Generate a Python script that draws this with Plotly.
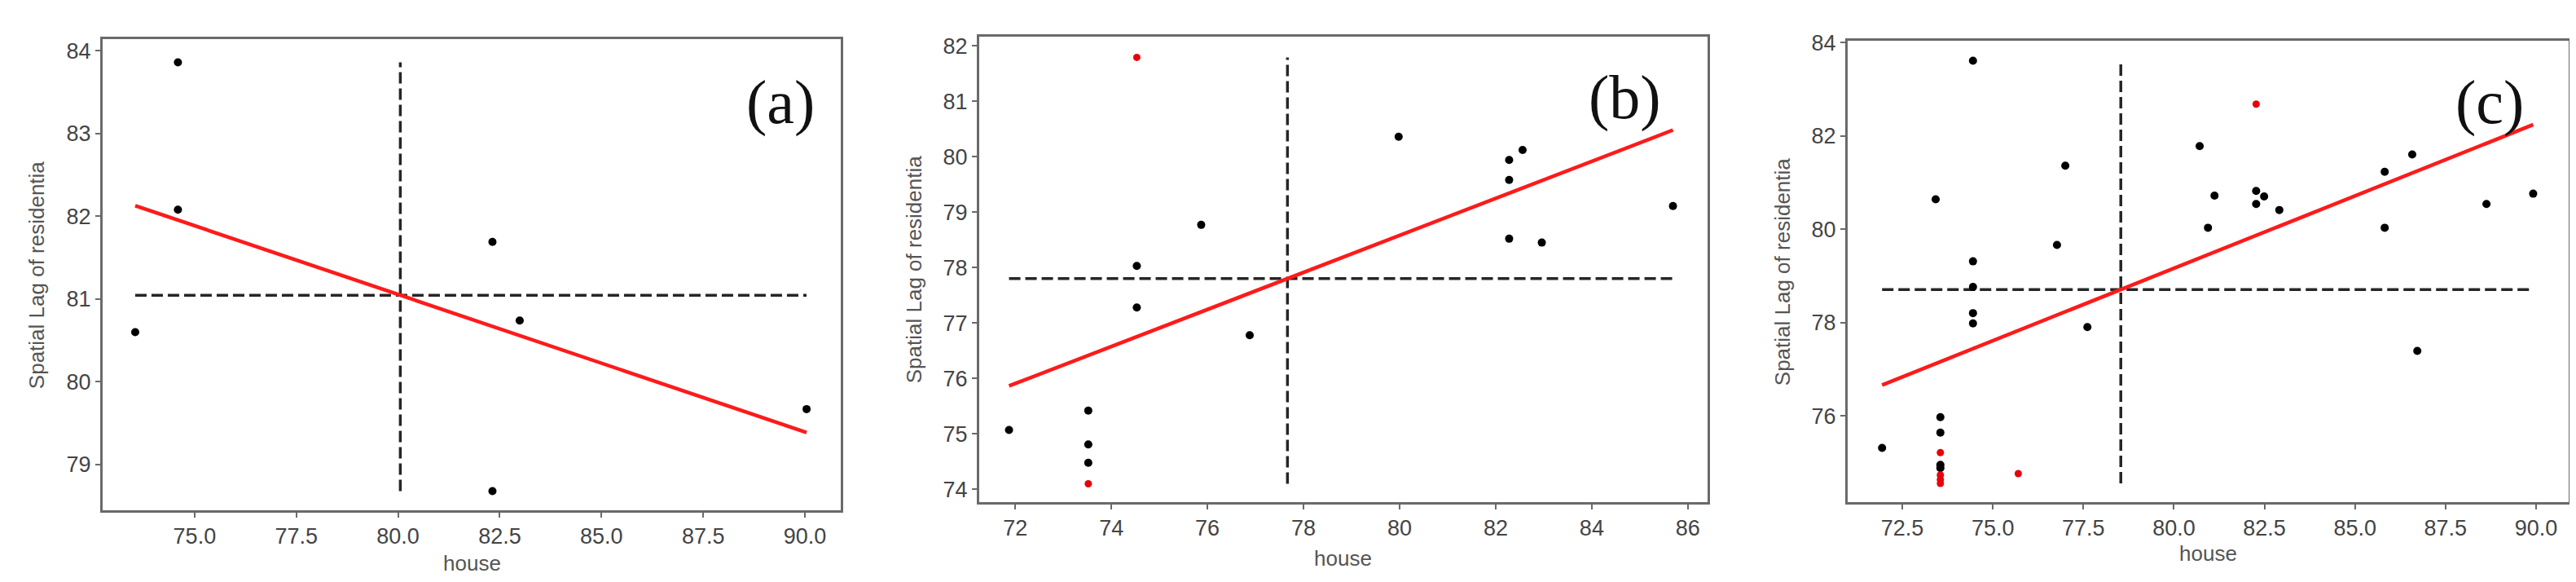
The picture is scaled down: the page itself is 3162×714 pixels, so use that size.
import numpy as np
import plotly.graph_objects as go

# ---- data (house value vs spatial lag) ----
# flag: 1 = point drawn in red
house_a = [73.54, 74.59, 74.59, 82.32, 82.99, 82.32, 90.04]
lag_a   = [80.60, 83.86, 82.08, 81.69, 80.74, 78.68, 79.67]
flag_a  = [0, 0, 0, 0, 0, 0, 0]

house_b = [71.87, 73.52, 73.52, 73.52, 73.52, 74.53, 74.53, 74.53, 75.87,
           76.88, 79.98, 82.28, 82.28, 82.28, 82.56, 82.96, 85.69]
lag_b   = [75.07, 75.42, 74.81, 74.48, 74.10, 81.79, 78.03, 77.28, 78.77,
           76.78, 80.36, 79.94, 79.58, 78.52, 80.12, 78.45, 79.11]
flag_b  = [0, 0, 0, 0, 1, 1, 0, 0, 0, 0, 0, 0, 0, 0, 0, 0, 0]

house_c = [71.94, 73.42, 73.55, 73.55, 73.55, 73.55, 73.55, 73.55, 73.55, 73.55,
           74.45, 74.45, 74.45, 74.45, 74.45, 75.70, 76.77, 77.00, 77.61, 80.71,
           80.94, 81.12, 82.27, 82.27, 82.27, 82.49, 82.91, 85.82, 85.82, 86.58,
           86.72, 88.63, 89.92]
lag_c   = [75.31, 80.64, 75.97, 75.64, 75.21, 74.95, 74.88, 74.73, 74.63, 74.55,
           83.61, 79.31, 78.76, 78.20, 77.98, 74.76, 79.66, 81.36, 77.90, 81.78,
           80.03, 80.72, 82.68, 80.82, 80.54, 80.70, 80.41, 81.23, 80.03, 81.60,
           77.39, 80.54, 80.76]
flag_c  = [0, 0, 0, 0, 1, 0, 0, 1, 1, 1,
           0, 0, 0, 0, 0, 1, 0, 0, 0, 0,
           0, 0, 1, 0, 0, 0, 0, 0, 0, 0,
           0, 0, 0]

panel_labels = ["(a)", "(b)", "(c)"]
x_ticks = [dict(dtick=2.5, tickformat=".1f"), dict(dtick=2, tickformat="d"), dict(dtick=2.5, tickformat=".1f")]
y_dticks = [1, 1, 2]

W, H = 3162, 714
# plot boxes in pixels: left, right, top, bottom
boxes = [(118, 1024, 28, 616), (1194, 2088, 24, 606), (2260, 3145, 30, 606)]
ranges_x = [(72.74, 90.88), (71.25, 86.41), (70.99, 90.90)]
ranges_y = [(78.45, 84.135), (73.77, 82.17), (74.15, 84.03)]
ylab_x = [37, 1114, 2180]
xlab_y = [682, 676, 670]
lab_pos = [(950, 106), (1986, 100), (3048, 106)]

fig = go.Figure()
panels = [(house_a, lag_a, flag_a), (house_b, lag_b, flag_b), (house_c, lag_c, flag_c)]

for i, (hx, ly, fl) in enumerate(panels):
    n = "" if i == 0 else str(i + 1)
    xa, ya = "x" + n, "y" + n
    hx = np.array(hx); ly = np.array(ly); fl = np.array(fl)
    mx, my = hx.mean(), ly.mean()

    # mean lines
    fig.add_trace(go.Scatter(x=[hx.min(), hx.max()], y=[my, my], mode="lines", xaxis=xa, yaxis=ya,
                             line=dict(color="#262626", width=3.5, dash="14px,6px"), showlegend=False))
    fig.add_trace(go.Scatter(x=[mx, mx], y=[ly.min(), ly.max()], mode="lines", xaxis=xa, yaxis=ya,
                             line=dict(color="#262626", width=3.5, dash="14px,6px"), showlegend=False))
    # points
    fig.add_trace(go.Scatter(x=hx[fl == 0], y=ly[fl == 0], mode="markers", xaxis=xa, yaxis=ya,
                             marker=dict(color="black", size=10), showlegend=False))
    fig.add_trace(go.Scatter(x=hx[fl == 1], y=ly[fl == 1], mode="markers", xaxis=xa, yaxis=ya,
                             marker=dict(color="#e8000b", size=9), showlegend=False))
    # regression line
    b, a = np.polyfit(hx, ly, 1)
    xs = np.array([hx.min(), hx.max()])
    fig.add_trace(go.Scatter(x=xs, y=a + b * xs, mode="lines", xaxis=xa, yaxis=ya,
                             line=dict(color="#ff1a1a", width=4.5), showlegend=False))

    l, r, t, bt = boxes[i]
    axis_common = dict(showline=True, mirror=True, linecolor="#6a6a6a", linewidth=3,
                       ticks="outside", ticklen=6, tickwidth=2, tickcolor="#6a6a6a",
                       showgrid=False, zeroline=False,
                       tickfont=dict(family="Liberation Sans", size=27, color="#444444"))
    fig.layout["xaxis" + n] = dict(axis_common, domain=[l / W, r / W], range=list(ranges_x[i]),
                                   anchor=ya, tick0=0, **x_ticks[i])
    fig.layout["yaxis" + n] = dict(axis_common, domain=[1 - bt / H, 1 - t / H], range=list(ranges_y[i]),
                                   anchor=xa, tick0=0, dtick=y_dticks[i])

    # axis titles and panel letter
    fig.add_annotation(x=ylab_x[i] / W, y=1 - ((t + bt) / 2) / H, xref="paper", yref="paper",
                       xanchor="center", yanchor="middle",
                       text="Spatial Lag of residentia", textangle=-90, showarrow=False,
                       font=dict(family="Liberation Sans", size=26, color="#555555"))
    fig.add_annotation(x=((l + r) / 2) / W, y=1 - xlab_y[i] / H, xref="paper", yref="paper",
                       xanchor="center", yanchor="middle",
                       text="house", showarrow=False,
                       font=dict(family="Liberation Sans", size=26, color="#555555"))
    fig.add_annotation(x=lab_pos[i][0] / W, y=1 - lab_pos[i][1] / H, xref="paper", yref="paper",
                       xanchor="center", yanchor="middle",
                       text=panel_labels[i], showarrow=False,
                       font=dict(family="Liberation Serif", size=76, color="#111111"))

fig.update_layout(width=W, height=H, margin=dict(l=0, r=0, t=0, b=0),
                  paper_bgcolor="white", plot_bgcolor="white")

fig.write_html("out.html")
